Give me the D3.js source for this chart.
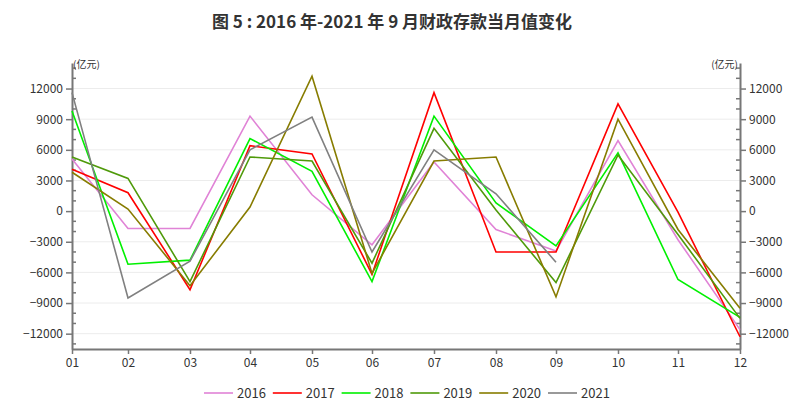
<!DOCTYPE html>
<html>
<head>
<meta charset="utf-8">
<script src="https://cdn.jsdelivr.net/npm/d3@7"></script>
<style>
  body { margin: 0; background: #fff; font-family: "Noto Sans CJK SC", "Noto Sans", sans-serif; }
  svg { display: block; }
</style>
</head>
<body>
<div id="chart"></div>
<script>
// months on x axis (points sit at month end, so spacing follows month length)
const months = ["01","02","03","04","05","06","07","08","09","10","11","12"];
const years = ["2016","2017","2018","2019","2020","2021"];
const colors = ["#e083d6","#ff0000","#00f000","#4f9a0a","#877c00","#808080"];

// monthly fiscal deposit change, 亿元
const v2016 = [5100, -1700, -1700, 9300, 1600, -3300, 4800, -1800, -3900, 6900, -2800, -11600];
const v2017 = [4100, 1800, -7700, 6400, 5600, -6200, 11600, -4000, -4000, 10500, -100, -12300];
const v2018 = [9800, -5200, -4800, 7100, 3900, -6900, 9300, 800, -3400, 5700, -6700, -10400];
const v2019 = [5300, 3200, -6900, 5300, 4900, -5100, 8100, 100, -7000, 5500, -2300, -10500];
const v2020 = [3800, 200, -7300, 400, 13200, -6100, 4900, 5300, -8400, 9000, -1800, -9500];
const v2021 = [11600, -8500, -4900, 6000, 9200, -4000, 6000, 1700, -5000];

const yTicks = [-12000, -9000, -6000, -3000, 0, 3000, 6000, 9000, 12000];

const series = [v2016, v2017, v2018, v2019, v2020, v2021];

const W = 805, H = 409;
const svg = d3.select("#chart").append("svg").attr("width", W).attr("height", H);

// month-end date for each category
const monthDate = m => new Date(2021, +m, 0);
const x = d3.scaleTime().domain([monthDate("01"), monthDate("12")]).range([72, 740]);
const y = d3.scaleLinear().domain([-13500, 14500]).range([349, 63]);

// title
svg.append("text")
  .attr("x", 392).attr("y", 28)
  .attr("text-anchor", "middle")
  .attr("font-size", 17).attr("font-weight", "bold").attr("fill", "#333")
  .text("图 5 : 2016 年-2021 年 9 月财政存款当月值变化");

// grid
svg.append("g").selectAll("line").data(yTicks).enter().append("line")
  .attr("x1", 72).attr("x2", 740)
  .attr("y1", d => y(d)).attr("y2", d => y(d))
  .attr("stroke", "#ececec").attr("stroke-width", 1);

const minor = d3.range(-13000, 14001, 1000).filter(d => d % 3000 !== 0);
const axisColor = "#777";

function styleAxis(g) {
  g.select(".domain").attr("stroke", axisColor).attr("stroke-width", 2);
  g.selectAll(".tick line").attr("stroke", axisColor).attr("stroke-width", 1.5);
  g.selectAll(".tick text").attr("fill", "#333").attr("font-size", 12)
    .attr("font-family", "'Noto Sans CJK SC', sans-serif");
}

// left axis
const gl = svg.append("g").attr("transform", "translate(72,0)")
  .call(d3.axisLeft(y).tickValues(yTicks).tickSize(6).tickSizeOuter(0).tickPadding(3).tickFormat(d3.format("d")));
styleAxis(gl);
gl.selectAll(".m").data(minor).enter().append("line")
  .attr("x1", 0).attr("x2", 4).attr("y1", d => y(d)).attr("y2", d => y(d))
  .attr("stroke", axisColor).attr("stroke-width", 1.5);

// right axis
const gr = svg.append("g").attr("transform", "translate(740,0)")
  .call(d3.axisRight(y).tickValues(yTicks).tickSize(6).tickSizeOuter(0).tickPadding(3).tickFormat(d3.format("d")));
styleAxis(gr);
gr.selectAll(".m").data(minor).enter().append("line")
  .attr("x1", 0).attr("x2", -4).attr("y1", d => y(d)).attr("y2", d => y(d))
  .attr("stroke", axisColor).attr("stroke-width", 1.5);

// bottom axis
const gb = svg.append("g").attr("transform", "translate(0,349)")
  .call(d3.axisBottom(x).tickValues(months.map(monthDate)).tickFormat(d3.timeFormat("%m"))
    .tickSize(5).tickSizeOuter(0).tickPadding(4));
styleAxis(gb);

// units
svg.append("text").attr("x", 73).attr("y", 68).attr("font-size", 10).attr("fill", "#333").text("(亿元)");
svg.append("text").attr("x", 738).attr("y", 68).attr("text-anchor", "end").attr("font-size", 10).attr("fill", "#333").text("(亿元)");

// lines
const line = d3.line().x((d, i) => x(monthDate(months[i]))).y(d => y(d));
svg.append("g").selectAll("path").data(series).enter().append("path")
  .attr("d", d => line(d))
  .attr("fill", "none")
  .attr("stroke", (d, i) => colors[i])
  .attr("stroke-width", 1.6)
  .attr("stroke-linejoin", "miter");

// legend
const lg = svg.append("g").selectAll("g").data(years).enter().append("g")
  .attr("transform", (d, i) => `translate(${204 + i * 68.8},393)`);
lg.append("line").attr("x1", 0).attr("x2", 29).attr("y1", 0).attr("y2", 0)
  .attr("stroke", (d, i) => colors[i]).attr("stroke-width", 1.6);
lg.append("text").attr("x", 33).attr("y", 5).attr("font-size", 13).attr("fill", "#333").text(d => d);
</script>
</body>
</html>
